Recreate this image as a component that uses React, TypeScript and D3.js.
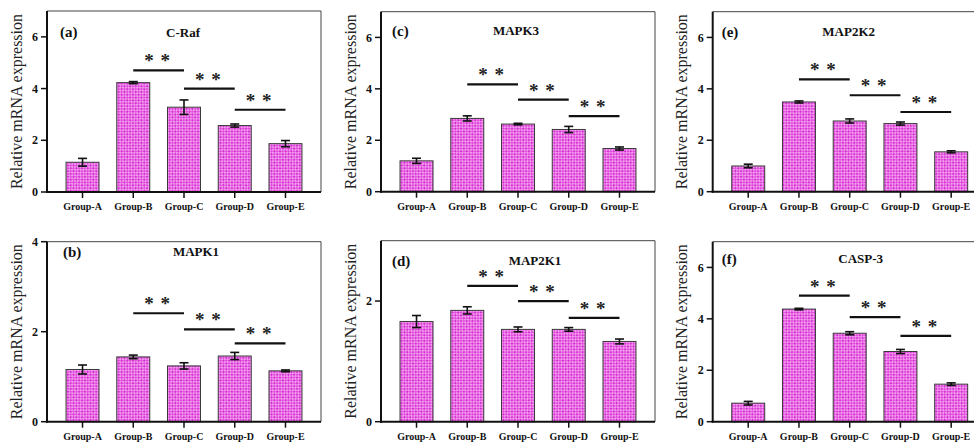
import React from "react";
import * as d3 from "d3";

// Groups shared by every panel
const groups = ["Group-A", "Group-B", "Group-C", "Group-D", "Group-E"];

// Panel tags and gene names
const panelTags = ["(a)", "(b)", "(c)", "(d)", "(e)", "(f)"];
const genes = ["C-Raf", "MAPK1", "MAPK3", "MAP2K1", "MAP2K2", "CASP-3"];

// Mean relative expression per group
const cRafMean = [1.15, 4.23, 3.28, 2.57, 1.87];
const mapk1Mean = [1.16, 1.44, 1.24, 1.46, 1.13];
const mapk3Mean = [1.2, 2.85, 2.63, 2.42, 1.68];
const map2k1Mean = [1.66, 1.845, 1.53, 1.53, 1.33];
const map2k2Mean = [1.0, 3.49, 2.75, 2.65, 1.55];
const casp3Mean = [0.72, 4.38, 3.44, 2.73, 1.46];

// Error (± SD) per group
const cRafErr = [0.15, 0.04, 0.28, 0.06, 0.12];
const mapk1Err = [0.1, 0.04, 0.07, 0.08, 0.02];
const mapk3Err = [0.1, 0.1, 0.03, 0.12, 0.06];
const map2k1Err = [0.1, 0.06, 0.04, 0.03, 0.04];
const map2k2Err = [0.07, 0.04, 0.08, 0.06, 0.04];
const casp3Err = [0.07, 0.03, 0.06, 0.08, 0.05];

// Heights of the significance brackets B–C, C–D, D–E
const cRafSig = [4.7, 4.0, 3.18];
const mapk1Sig = [2.41, 2.05, 1.74];
const mapk3Sig = [4.17, 3.58, 2.94];
const map2k1Sig = [2.25, 2.0, 1.72];
const map2k2Sig = [4.37, 3.75, 3.1];
const casp3Sig = [4.9, 4.07, 3.34];

// y-axis maxima
const yMaxes = [7, 4, 7, 3, 7, 7];

const means = [cRafMean, mapk1Mean, mapk3Mean, map2k1Mean, map2k2Mean, casp3Mean];
const errs = [cRafErr, mapk1Err, mapk3Err, map2k1Err, map2k2Err, casp3Err];
const sigs = [cRafSig, mapk1Sig, mapk3Sig, map2k1Sig, map2k2Sig, casp3Sig];

// Panel frames (pixels)
const frames = [
  { left: 47, top: 11, bottom: 192, tagDx: 13, tagDy: 21, titleDx: 136 },
  { left: 47, top: 241.7, bottom: 421.7, tagDx: 16, tagDy: 10, titleDx: 149 },
  { left: 381, top: 11.7, bottom: 191.7, tagDx: 11, tagDy: 19, titleDx: 135 },
  { left: 381, top: 240.7, bottom: 421.7, tagDx: 11, tagDy: 20, titleDx: 154 },
  { left: 712.7, top: 11.7, bottom: 191.7, tagDx: 9, tagDy: 20, titleDx: 136 },
  { left: 712.7, top: 241.7, bottom: 421.7, tagDx: 9, tagDy: 17, titleDx: 148 },
];
const PANEL_W = 274;
const FONT = "Liberation Serif, DejaVu Serif, serif";

function Panel({ i }: { i: number }) {
  const f = frames[i];
  const right = f.left + PANEL_W;
  const x = d3
    .scaleBand<string>()
    .domain(groups)
    .range([f.left, right])
    .paddingInner(0.35)
    .paddingOuter(0.375);
  const y = d3.scaleLinear().domain([0, yMaxes[i]]).range([f.bottom, f.top]);
  const ticks = d3.range(0, yMaxes[i] + 0.001, 2);
  const cx = (g: string) => (x(g) as number) + x.bandwidth() / 2;
  const capHalf = 4.5;

  return (
    <g>
      {/* bars */}
      {groups.map((g, k) => (
        <rect
          key={g}
          x={x(g)}
          y={y(means[i][k])}
          width={x.bandwidth()}
          height={y(0) - y(means[i][k])}
          fill="url(#hatch)"
          stroke="#3a3a3a"
          strokeWidth={1}
        />
      ))}
      {/* error bars */}
      {groups.map((g, k) => {
        const hi = y(means[i][k] + errs[i][k]);
        const lo = y(means[i][k] - errs[i][k]);
        const c = cx(g);
        return (
          <g key={"e" + g} stroke="#111" strokeWidth={1.6}>
            <line x1={c} x2={c} y1={hi} y2={lo} />
            <line x1={c - capHalf} x2={c + capHalf} y1={hi} y2={hi} />
            <line x1={c - capHalf} x2={c + capHalf} y1={lo} y2={lo} />
          </g>
        );
      })}
      {/* significance brackets */}
      {sigs[i].map((v, k) => {
        const x1 = cx(groups[k + 1]);
        const x2 = cx(groups[k + 2]);
        const yy = y(v);
        return (
          <g key={"s" + k}>
            <line x1={x1} x2={x2} y1={yy} y2={yy} stroke="#111" strokeWidth={2.2} />
            <text
              x={(x1 + x2) / 2 - 1}
              y={yy - 3}
              textAnchor="middle"
              style={{ fontFamily: FONT }}
              fontWeight="bold"
              fontSize={19}
              fill="#222"
              letterSpacing={1}
            >
              * *
            </text>
          </g>
        );
      })}
      {/* frame: thin top and right */}
      <line x1={f.left} x2={right} y1={f.top} y2={f.top} stroke="#444" strokeWidth={1} />
      <line x1={right} x2={right} y1={f.top} y2={f.bottom} stroke="#444" strokeWidth={1} />
      {/* y axis */}
      <line x1={f.left} x2={f.left} y1={f.top} y2={f.bottom + 1} stroke="#111" strokeWidth={2} />
      {ticks.map((t) => (
        <g key={"t" + t}>
          <line x1={f.left - 6} x2={f.left} y1={y(t)} y2={y(t)} stroke="#111" strokeWidth={1.5} />
          <text
            x={f.left - 9}
            y={y(t)}
            dy="0.35em"
            textAnchor="end"
            style={{ fontFamily: FONT }}
            fontWeight="bold"
            fontSize={12}
            fill="#111"
          >
            {t}
          </text>
        </g>
      ))}
      {/* x axis */}
      <line x1={f.left - 1} x2={right} y1={f.bottom} y2={f.bottom} stroke="#111" strokeWidth={2} />
      {groups.map((g) => (
        <g key={"x" + g}>
          <line x1={cx(g)} x2={cx(g)} y1={f.bottom} y2={f.bottom + 6} stroke="#111" strokeWidth={1.5} />
          <text
            x={cx(g)}
            y={f.bottom + 18}
            textAnchor="middle"
            style={{ fontFamily: FONT }}
            fontWeight="bold"
            fontSize={10}
            fill="#111"
          >
            {g}
          </text>
        </g>
      ))}
      {/* y title */}
      <text
        transform={`translate(${f.left - 31},${(f.top + f.bottom) / 2}) rotate(-90)`}
        textAnchor="middle"
        dy="0.35em"
        style={{ fontFamily: FONT }}
        fontSize={16}
        fill="#222"
      >
        Relative mRNA expression
      </text>
      {/* tag and gene */}
      <text
        x={f.left + f.tagDx}
        y={f.top + f.tagDy}
        dy="0.35em"
        style={{ fontFamily: FONT }}
        fontWeight="bold"
        fontSize={15}
        fill="#111"
      >
        {panelTags[i]}
      </text>
      <text
        x={f.left + f.titleDx}
        y={f.top + f.tagDy}
        dy="0.35em"
        textAnchor="middle"
        style={{ fontFamily: FONT }}
        fontWeight="bold"
        fontSize={13}
        fill="#111"
      >
        {genes[i]}
      </text>
    </g>
  );
}

export default function App() {
  return (
    <svg
      width={974}
      height={446}
      style={{ position: "absolute", left: 0, top: 0, background: "#fff" }}
    >
      <defs>
        <pattern
          id="hatch"
          width={4}
          height={4}
          patternUnits="userSpaceOnUse"
          patternTransform="rotate(45)"
        >
          <rect width={4} height={4} fill="#f39bef" />
          <rect width={2} height={2} fill="#d632d2" />
          <rect x={2} y={2} width={2} height={2} fill="#de4ada" />
        </pattern>
      </defs>
      {frames.map((_, i) => (
        <Panel key={i} i={i} />
      ))}
    </svg>
  );
}
